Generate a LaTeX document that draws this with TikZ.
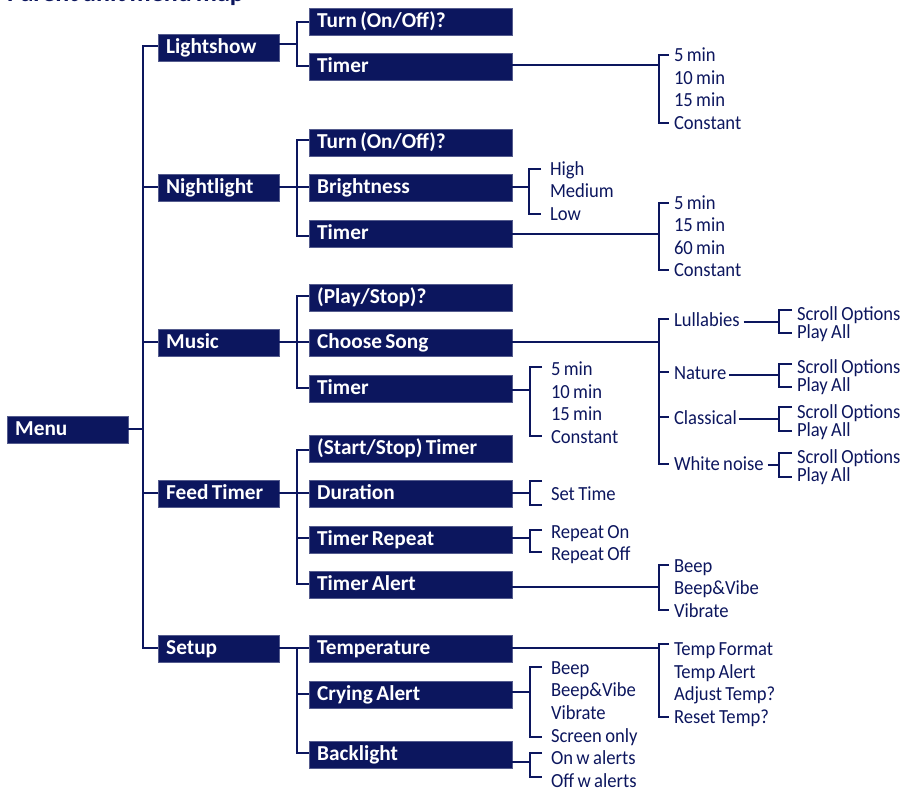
\documentclass[tikz,border=0pt]{standalone}
\usepackage{fontspec}
\setmainfont[WordSpace=0.7]{Carlito}
\newfontfamily\leaffont[FakeStretch=0.93,WordSpace=0.8]{Carlito}
\definecolor{navy}{RGB}{12,22,94}
\tikzset{
 x=1pt,y=-1pt,
 lnk/.style={draw=navy,line width=2.1pt,line join=miter},
 menubox/.style={anchor=north west,fill=navy,draw=navy!70!white,line width=.4pt,text=white,font=\fontsize{21.3}{22}\bfseries\selectfont,minimum height=26.5pt,text height=16pt,text depth=4pt,inner ysep=0pt,inner xsep=8pt,align=flush left},
 lvla/.style={menubox,text width=105pt},
 lvlb/.style={menubox,text width=187pt},
 leafn/.style={anchor=west,text=navy,font=\leaffont\fontsize{20}{22}\selectfont,inner sep=0pt,text height=13.5pt,text depth=0.5pt},
 leafa/.style={leafn,outer xsep=5pt},
 leafb/.style={leafn,outer xsep=9pt},
}
% parent, line y, bus x, top stub node, top y, bottom stub node, bottom y
\newcommand{\brk}[7]{%
 \draw[lnk] (#1.east |- 0,#2) -- (#3,#2);
 \draw[lnk] (#4.west |- 0,#5) -- (#3,#5) -- (#3,#7) -- (#6.west |- 0,#7);
}
\begin{document}
\begin{tikzpicture}
\useasboundingbox (0,0) rectangle (904,788);
\clip (0,0) rectangle (904,788);
\node[anchor=base west,inner sep=0pt,text=navy,font=\fontsize{26}{27}\bfseries\selectfont] (title) at (7,1.5) {Parent unit menu map};
% root
\node[lvla] (menu) at (7,416) {Menu};
\node[lvla] (light) at (158,34) {Lightshow};
\node[lvla] (night) at (158,174) {Nightlight};
\node[lvla] (music) at (158,329) {Music};
\node[lvla] (feed) at (158,480) {Feed Timer};
\node[lvla] (setup) at (158,635) {Setup};
% level 2
\node[lvlb] (lt) at (309,8) {Turn (On/Off)?};
\node[lvlb] (lm) at (309,53) {Timer};
\node[lvlb] (nt) at (309,129) {Turn (On/Off)?};
\node[lvlb] (nb) at (309,174) {Brightness};
\node[lvlb] (nm) at (309,220) {Timer};
\node[lvlb] (mp) at (309,284) {(Play/Stop)?};
\node[lvlb] (mc) at (309,329) {Choose Song};
\node[lvlb] (mm) at (309,375) {Timer};
\node[lvlb] (fs) at (309,435) {(Start/Stop) Timer};
\node[lvlb] (fd) at (309,480) {Duration};
\node[lvlb] (fr) at (309,526) {Timer Repeat};
\node[lvlb] (fa) at (309,571) {Timer Alert};
\node[lvlb] (st) at (309,635) {Temperature};
\node[lvlb] (sc) at (309,681) {Crying Alert};
\node[lvlb] (sb) at (309,741) {Backlight};
% leaves
\node[leafa] (a1) at (669,55) {5 min};
\node[leafa] (a2) at (669,78) {10 min};
\node[leafa] (a3) at (669,100) {15 min};
\node[leafa] (a4) at (669,123) {Constant};
\node[leafb] (b1) at (541,169) {High};
\node[leafb] (b2) at (541,191) {Medium};
\node[leafb] (b3) at (541,214) {Low};
\node[leafa] (c1) at (669,203) {5 min};
\node[leafa] (c2) at (669,225) {15 min};
\node[leafa] (c3) at (669,248) {60 min};
\node[leafa] (c4) at (669,270) {Constant};
\node[leafa] (d1) at (669,320) {Lullabies};
\node[leafa] (d2) at (669,373) {Nature};
\node[leafa] (d3) at (669,418) {Classical};
\node[leafa] (d4) at (669,464) {White noise};
\foreach \n/\a/\b in {e/314/332,f/367/385,g/412/430,h/457/475}{
 \node[leafa] (\n1) at (792,\a) {Scroll Options};
 \node[leafa] (\n2) at (792,\b) {Play All};
}
\node[leafb] (i1) at (542,369) {5 min};
\node[leafb] (i2) at (542,392) {10 min};
\node[leafb] (i3) at (542,414) {15 min};
\node[leafb] (i4) at (542,437) {Constant};
\node[leafb] (j1) at (542,494) {Set Time};
\node[leafb] (k1) at (542,532) {Repeat On};
\node[leafb] (k2) at (542,554) {Repeat Off};
\node[leafa] (l1) at (669,566) {Beep};
\node[leafa] (l2) at (669,588) {Beep\&Vibe};
\node[leafa] (l3) at (669,611) {Vibrate};
\node[leafa] (m1) at (669,649) {Temp Format};
\node[leafa] (m2) at (669,672) {Temp Alert};
\node[leafa] (m3) at (669,694) {Adjust Temp?};
\node[leafa] (m4) at (669,717) {Reset Temp?};
\node[leafb] (n1) at (542,668) {Beep};
\node[leafb] (n2) at (542,690) {Beep\&Vibe};
\node[leafb] (n3) at (542,713) {Vibrate};
\node[leafb] (n4) at (542,736) {Screen only};
\node[leafb] (o1) at (542,758) {On w alerts};
\node[leafb] (o2) at (542,780.5) {Off w alerts};
% trunk
\draw[lnk] (menu.east |- 0,429) -- (143,429);
\draw[lnk] (light.west |- 0,46) -- (143,46) -- (143,648) -- (setup.west |- 0,648);
\draw[lnk] (143,187) -- (night.west |- 0,187);
\draw[lnk] (143,342) -- (music.west |- 0,342);
\draw[lnk] (143,493) -- (feed.west |- 0,493);
% level 1 to level 2
\brk{light}{44}{297}{lt}{22}{lm}{66}
\brk{night}{187}{297}{nt}{140}{nm}{236}
\draw[lnk] (297,187) -- (nb.west |- 0,187);
\brk{music}{342}{297}{mp}{296}{mm}{388}
\draw[lnk] (297,342) -- (mc.west |- 0,342);
\brk{feed}{493}{297}{fs}{450}{fa}{584}
\draw[lnk] (297,493) -- (fd.west |- 0,493);
\draw[lnk] (297,538) -- (fr.west |- 0,538);
\draw[lnk] (setup.east |- 0,648) -- (st.west |- 0,648);
\draw[lnk] (297,648) -- (297,753) -- (sb.west |- 0,753);
\draw[lnk] (297,694) -- (sc.west |- 0,694);
% level 2 to leaves
\brk{lm}{65}{659}{a1}{55}{a4}{123}
\brk{nb}{187}{529}{b1}{169}{b3}{214}
\brk{nm}{234}{659}{c1}{203}{c4}{270}
\brk{mc}{342}{659}{d1}{319}{d4}{464}
\draw[lnk] (659,372) -- (d2.west |- 0,372);
\draw[lnk] (659,417) -- (d3.west |- 0,417);
\brk{mm}{390}{530}{i1}{367}{i4}{436}
\brk{fd}{493}{530}{j1}{481}{j1}{505}
\brk{fr}{538}{530}{k1}{530}{k2}{552}
\brk{fa}{587}{659}{l1}{565}{l3}{610}
\brk{st}{648}{659}{m1}{644}{m4}{717}
\brk{sc}{692}{530}{n1}{667}{n4}{737}
\brk{sb}{762}{530}{o1}{753}{o2}{777}
% third level
\draw[lnk] (d1.east |- 0,322) ++(-1,0) -- (779,322);
\draw[lnk] (d2.east |- 0,375) ++(-2,0) -- (779,375);
\draw[lnk] (d3.east |- 0,419) ++(-3,0) -- (779,419);
\draw[lnk] (d4.east |- 0,465) ++(-1,0) -- (779,465);
\draw[lnk] (e1.west |- 0,310) -- (779,310) -- (779,333) -- (e2.west |- 0,333);
\draw[lnk] (f1.west |- 0,364) -- (779,364) -- (779,387) -- (f2.west |- 0,387);
\draw[lnk] (g1.west |- 0,407) -- (779,407) -- (779,431) -- (g2.west |- 0,431);
\draw[lnk] (h1.west |- 0,453) -- (779,453) -- (779,477) -- (h2.west |- 0,477);
\end{tikzpicture}
\end{document}
